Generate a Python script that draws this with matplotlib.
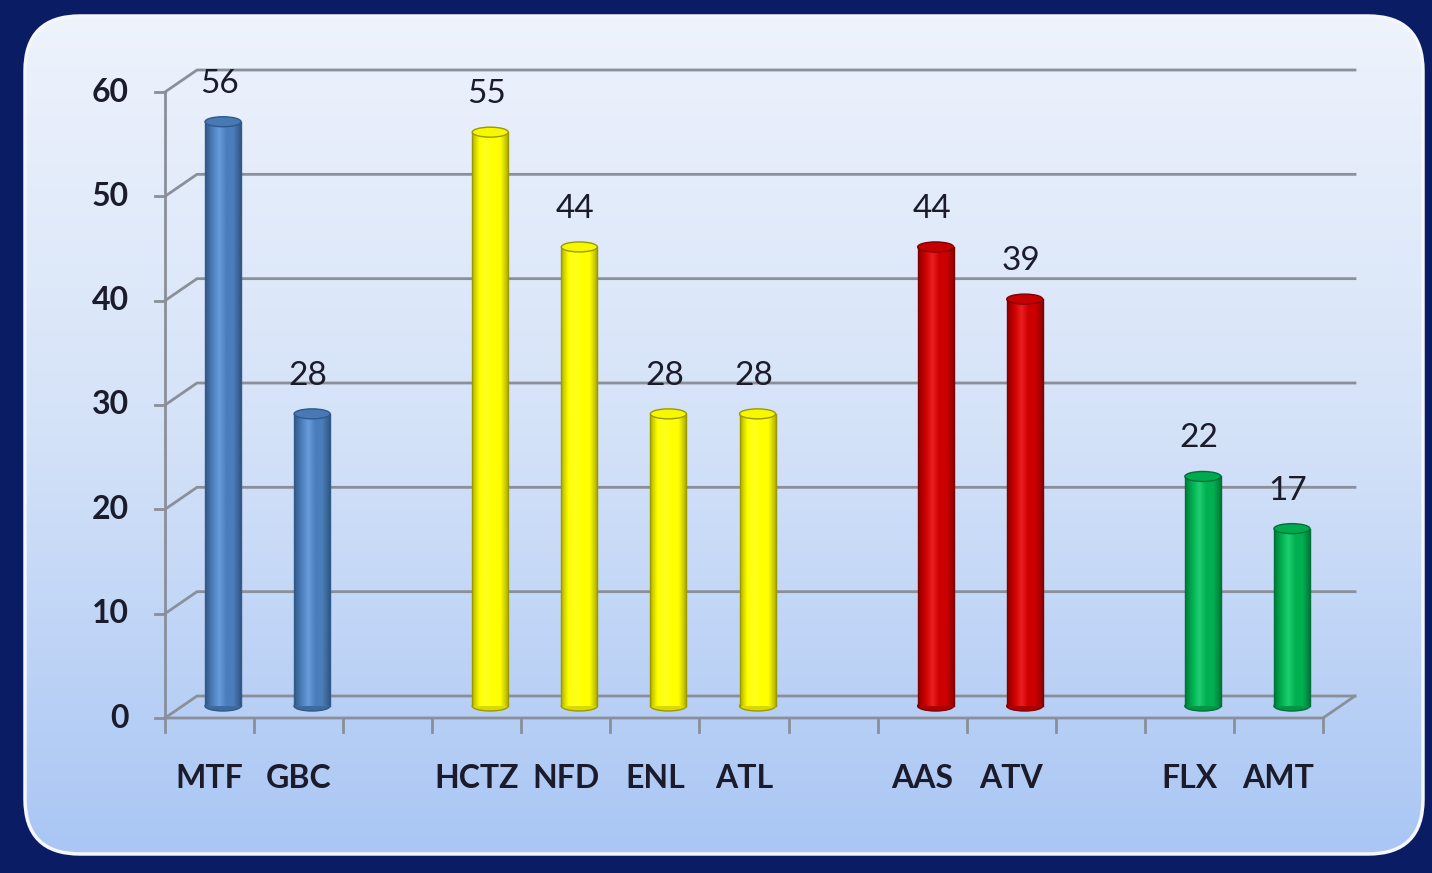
import numpy as np
import matplotlib.pyplot as plt
from matplotlib.patches import FancyBboxPatch, Ellipse
from matplotlib.colors import LinearSegmentedColormap, to_rgb

labels = ['MTF', 'GBC', 'HCTZ', 'NFD', 'ENL', 'ATL', 'AAS', 'ATV', 'FLX', 'AMT']
values = [56, 28, 55, 44, 28, 28, 44, 39, 22, 17]
slots = [0, 1, 3, 4, 5, 6, 8, 9, 11, 12]
groups = [0, 0, 1, 1, 1, 1, 2, 2, 3, 3]
yticks = [0, 10, 20, 30, 40, 50, 60]
n_slots = 13

bar_colors = ['#4a7dbb', '#ffff00', '#cc0000', '#00b050']
edge_colors = ['#30598c', '#9a9a00', '#800000', '#00703a']

W, H = 1432, 873
fig = plt.figure(figsize=(W / 100, H / 100), dpi=100)
fig.patch.set_facecolor('#0a1c64')

# background panel
bg = fig.add_axes([0, 0, 1, 1])
bg.set_xlim(0, W)
bg.set_ylim(H, 0)
bg.axis('off')
panel = FancyBboxPatch((25, 16), 1398, 838, boxstyle='round,pad=0,rounding_size=55',
                       facecolor='none', edgecolor='#f4f7fc', lw=2.5, zorder=3)
bg.add_patch(panel)
grad = np.linspace(0, 1, 256).reshape(-1, 1)
cmap_bg = LinearSegmentedColormap.from_list('bg', ['#eef3fc', '#d4e2f8', '#a9c6f4'])
im = bg.imshow(grad, cmap=cmap_bg, extent=[25, 1423, 854, 16], aspect='auto', zorder=1)
im.set_clip_path(panel)

# chart axes: front plane
x0, x1, y0, y1 = 165, 1323, 718, 92
ax = fig.add_axes([x0 / W, 1 - y0 / H, (x1 - x0) / W, (y0 - y1) / H])
ax.set_xlim(0, n_slots)
ax.set_ylim(0, 60)
ax.axis('off')
ax.patch.set_alpha(0)

px_x = (x1 - x0) / n_slots
px_y = (y0 - y1) / 60
DX = 32 / px_x
DY = 22 / px_y
gc = '#8a8f99'

for v in yticks:
    ax.plot([0, DX, n_slots + DX], [v, v + DY, v + DY], color=gc, lw=2, clip_on=False, zorder=1)
    ax.plot([-10 / px_x, 0], [v, v], color=gc, lw=2, clip_on=False, zorder=1)
    ax.text(-36 / px_x, v, str(v), ha='right', va='center', fontsize=23, fontweight='bold',
            family='Lato', color='#1b1b2b')
ax.plot([0, 0], [0, 60], color=gc, lw=2, clip_on=False, zorder=1)
ax.plot([0, n_slots, n_slots + DX], [0, 0, DY], color=gc, lw=2, clip_on=False, zorder=1)
for i in range(n_slots + 1):
    ax.plot([i, i], [0, -14 / px_y], color=gc, lw=2, clip_on=False, zorder=1)

# cylinder bars
bw = 36 / px_x
bx = 13.5 / px_x
by = 12 / px_y
eh = 10 / px_y
shade = np.linspace(0, 1, 64).reshape(1, -1)
for lab, v, s, g in zip(labels, values, slots, groups):
    c = np.array(to_rgb(bar_colors[g]))
    dark = c * 0.7
    light = np.minimum(c + 0.12, 1)
    cm = LinearSegmentedColormap.from_list('cyl', [dark, c, light, c, c, dark])
    cx = s + 0.5 + bx
    ax.add_patch(Ellipse((cx, by), bw, eh, facecolor=c * 0.85, edgecolor=edge_colors[g],
                         lw=1, zorder=2, clip_on=False))
    rect = ax.bar(cx, v, width=bw, bottom=by, color=bar_colors[g], edgecolor='none',
                  zorder=3, clip_on=False)[0]
    img = ax.imshow(shade, cmap=cm, extent=[cx - bw / 2, cx + bw / 2, by, by + v],
                    aspect='auto', zorder=3.5)
    img.set_clip_path(rect)
    ax.plot([cx - bw / 2, cx - bw / 2], [by, by + v], color=edge_colors[g], lw=1, zorder=4)
    ax.plot([cx + bw / 2, cx + bw / 2], [by, by + v], color=edge_colors[g], lw=1, zorder=4)
    ax.add_patch(Ellipse((cx, by + v), bw, eh, facecolor=c * 0.97, edgecolor=edge_colors[g],
                         lw=1, zorder=5, clip_on=False))
    ax.text(cx - 4 / px_x, by + v + 38 / px_y, str(v), ha='center', va='center', fontsize=24,
            family='Lato', color='#1b1b2b', zorder=6)
    ax.text(s + 0.5, -61 / px_y, lab, ha='center', va='center', fontsize=23, fontweight='bold',
            family='Lato', color='#1b1b2b')

ax.set_xlim(0, n_slots)
ax.set_ylim(0, 60)
fig.savefig('out.png', dpi=100, facecolor=fig.get_facecolor())
